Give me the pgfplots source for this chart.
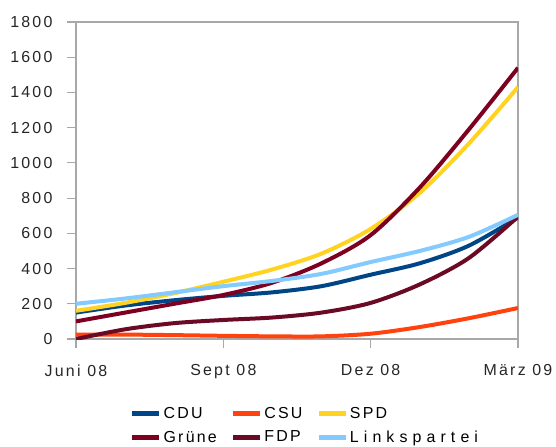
\documentclass[border=0pt]{standalone}
\usepackage{fontspec}
\setmainfont{Liberation Sans}[LetterSpace=14]
\newfontfamily\widefont{Liberation Sans}[LetterSpace=32]
\usepackage{pgfplots}
\pgfplotsset{compat=1.18}
\definecolor{cdu}{HTML}{004586}
\definecolor{csu}{HTML}{FF420E}
\definecolor{spd}{HTML}{FFD320}
\definecolor{gruene}{HTML}{7E0021}
\definecolor{fdp}{HTML}{6B0A24}
\definecolor{linke}{HTML}{83CAFF}
\definecolor{axgray}{HTML}{A8A8A8}
\begin{document}
\begin{tikzpicture}
\path[use as bounding box] (-76bp,-108bp) rectangle (480bp,339bp);
\begin{axis}[
  at={(0,0)}, anchor=south west,
  scale only axis, width=442bp, height=317bp,
  xmin=0, xmax=9, ymin=0, ymax=1800,
  xtick={0,3,6,9}, xticklabels={Juni 08,Sept 08,Dez 08,März 09},
  ytick={0,200,...,1800},
  axis line style={draw=axgray, line width=1.1bp},
  tick style={draw=axgray, line width=1.1bp},
  tick align=outside, tick pos=left, major tick length=9bp,
  font=\fontsize{16}{19}\selectfont,
  /pgf/number format/assume math mode=true,
  /pgf/number format/1000 sep={},
  yticklabel style={xshift=-11bp, text=black!85},
  xticklabel style={yshift=-13bp, text=black!85},
  legend columns=3,
  legend cell align=left,
  legend style={at={(0.122,-0.208)}, anchor=north west, draw=none, inner sep=0pt,
    font=\fontsize{16}{19}\selectfont, row sep=7bp,
    /tikz/every even column/.append style={column sep=12bp}},
  legend image code/.code={\draw[#1, line width=4.5bp, line cap=butt] (0bp,0bp) -- (27bp,0bp);},
  every axis plot/.append style={line width=4bp, smooth, no markers},
]
\draw[axgray, line width=1.1bp] (rel axis cs:0,0) rectangle (rel axis cs:1,1);
\addplot[cdu] coordinates {(0,150) (1,190) (2,220) (3,245) (4,265) (5,300) (6,365) (7,430) (8,530) (9,690)};
\addlegendentry{CDU}
\addplot[csu] coordinates {(0,25) (1,25) (2,22) (3,18) (4,15) (5,15) (6,30) (7,68) (8,118) (9,176)};
\addlegendentry{CSU}
\addplot[spd] coordinates {(0,160) (1,205) (2,260) (3,325) (4,395) (5,485) (6,625) (7,830) (8,1110) (9,1430)};
\addlegendentry{SPD}
\addplot[gruene] coordinates {(0,100) (1,150) (2,200) (3,250) (4,320) (5,430) (6,590) (7,860) (8,1190) (9,1540)};
\addlegendentry{Grüne}
\addplot[fdp] coordinates {(0,0) (1,55) (2,90) (3,108) (4,122) (5,150) (6,205) (7,310) (8,460) (9,695)};
\addlegendentry{FDP}
\addplot[linke] coordinates {(0,200) (1,230) (2,265) (3,300) (4,330) (5,370) (6,437) (7,500) (8,580) (9,705)};
\addlegendentry{{\widefont Linkspartei}}
\end{axis}
\end{tikzpicture}
\end{document}
